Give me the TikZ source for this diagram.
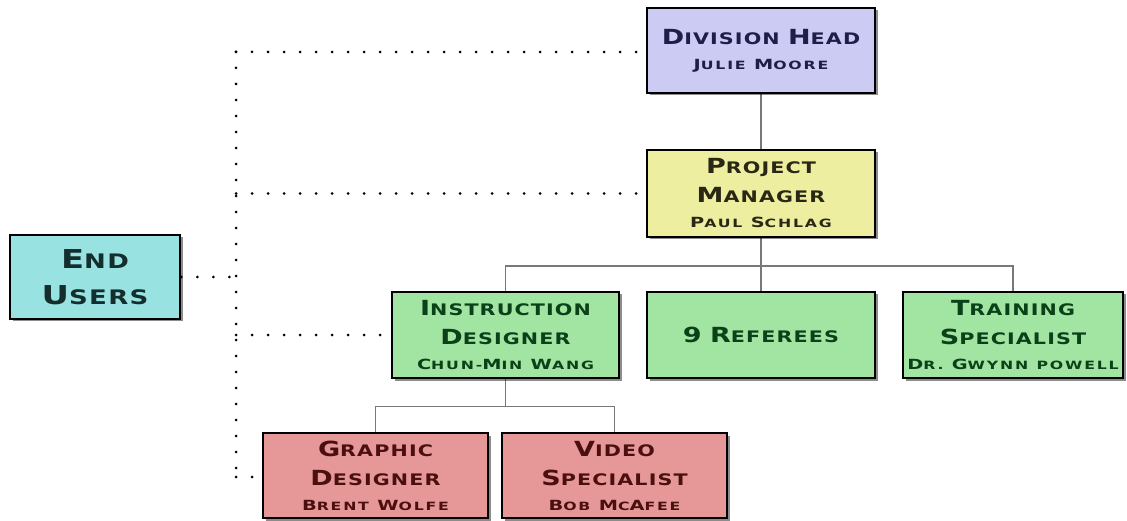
\documentclass[tikz,border=0pt]{standalone}
\usepackage{fontspec}
\usetikzlibrary{backgrounds,shadows}
\newfontfamily\cpfont{DejaVu Sans}[FakeStretch=1.3,LetterSpace=7]
\newfontfamily\cpname{DejaVu Sans}[FakeStretch=1.38,LetterSpace=16]
\newcommand\TT[2]{{\fontsize{20.8}{29}\selectfont #1}{\fontsize{15.9}{29}\selectfont #2}}
\newcommand\NN[2]{{\cpname\bfseries{\fontsize{14}{25}\selectfont #1}{\fontsize{11.4}{25}\selectfont #2}}}
\definecolor{lav}{RGB}{203,203,243}
\definecolor{yel}{RGB}{238,238,160}
\definecolor{cya}{RGB}{152,226,226}
\definecolor{grn}{RGB}{162,228,162}
\definecolor{pnk}{RGB}{230,152,152}
\definecolor{tnavy}{RGB}{30,30,75}
\definecolor{tolive}{RGB}{40,40,20}
\definecolor{tteal}{RGB}{20,45,45}
\definecolor{tgreen}{RGB}{10,65,25}
\definecolor{tred}{RGB}{75,15,15}
\definecolor{conn}{RGB}{120,120,120}
\tikzset{
  box/.style={draw=black, line width=2.5pt, inner sep=0pt, align=center,
    font=\cpfont\bfseries\fontsize{15.9}{29}\selectfont,
    drop shadow={shadow xshift=2.5pt, shadow yshift=-2.5pt, opacity=0.45, fill=black}},
  solidc/.style={draw=conn, line width=1.5pt},
  dotc/.style={draw=black, line width=3pt, line cap=round, dash pattern=on 0pt off 16pt}
}
\begin{document}
\begin{tikzpicture}[x=1pt,y=-1pt]
\useasboundingbox (0,0) rectangle (1127,521);
\node[box, fill=lav, text=tnavy, minimum width=228pt, minimum height=85pt] (dh) at (761,50.5)
  {\TT{D}{IVISION} \TT{H}{EAD}\\[-4pt]\NN{J}{ULIE} \NN{M}{OORE}};
\node[box, fill=yel, text=tolive, minimum width=228pt, minimum height=87pt] (pm) at (761,193.5)
  {\TT{P}{ROJECT}\\\TT{M}{ANAGER}\\[-4pt]\NN{P}{AUL} \NN{S}{CHLAG}};
\node[box, fill=cya, text=tteal, minimum width=170pt, minimum height=84pt, font=\cpfont\bfseries\fontsize{20}{36}\selectfont] (eu) at (95,277)
  {{\fontsize{26}{36}\selectfont E}ND\\{\fontsize{26}{36}\selectfont U}SERS};
\node[box, fill=grn, text=tgreen, minimum width=227pt, minimum height=86pt] (id) at (505.5,335)
  {\TT{I}{NSTRUCTION}\\\TT{D}{ESIGNER}\\[-4pt]\NN{C}{HUN-}\NN{M}{IN} \NN{W}{ANG}};
\node[box, fill=grn, text=tgreen, minimum width=228pt, minimum height=86pt] (rf) at (761,335)
  {\TT{9}{} \TT{R}{EFEREES}};
\node[box, fill=grn, text=tgreen, minimum width=220pt, minimum height=86pt] (ts) at (1013,335)
  {\TT{T}{RAINING}\\\TT{S}{PECIALIST}\\[-4pt]\NN{D}{R.} \NN{G}{WYNN} \NN{}{POWELL}};
\node[box, fill=pnk, text=tred, minimum width=225pt, minimum height=85pt] (gd) at (375.5,475.5)
  {\TT{G}{RAPHIC}\\\TT{D}{ESIGNER}\\[-4pt]\NN{B}{RENT} \NN{W}{OLFE}};
\node[box, fill=pnk, text=tred, minimum width=225pt, minimum height=85pt] (vs) at (614.5,475.5)
  {\TT{V}{IDEO}\\\TT{S}{PECIALIST}\\[-4pt]\NN{B}{OB} \NN{M}{C}\NN{A}{FEE}};
\coordinate (vtop) at (236,52);
\coordinate (vbot) at (236,477);
\begin{scope}[on background layer]
  \draw[solidc] (dh.south) -- (pm.north);
  \draw[solidc] (pm.south) -- ++(0,28) coordinate (b1);
  \draw[solidc] (id.north) |- (b1) -| (ts.north);
  \draw[solidc] (b1) -- (rf.north);
  \draw[solidc] (id.south) -- ++(0,27) coordinate (b2);
  \draw[solidc] (gd.north) |- (b2) -| (vs.north);
  \draw[dotc] (vtop) -- (vbot);
  \draw[dotc] (vtop) -- (vtop -| dh.west);
  \draw[dotc] (pm.west -| vtop) -- (pm.west);
  \draw[dotc] (eu.east) -- (eu.east -| vtop);
  \draw[dotc] (id.west -| vtop) -- (id.west);
  \draw[dotc] (vbot) -- (vbot -| gd.west);
\end{scope}
\end{tikzpicture}
\end{document}
